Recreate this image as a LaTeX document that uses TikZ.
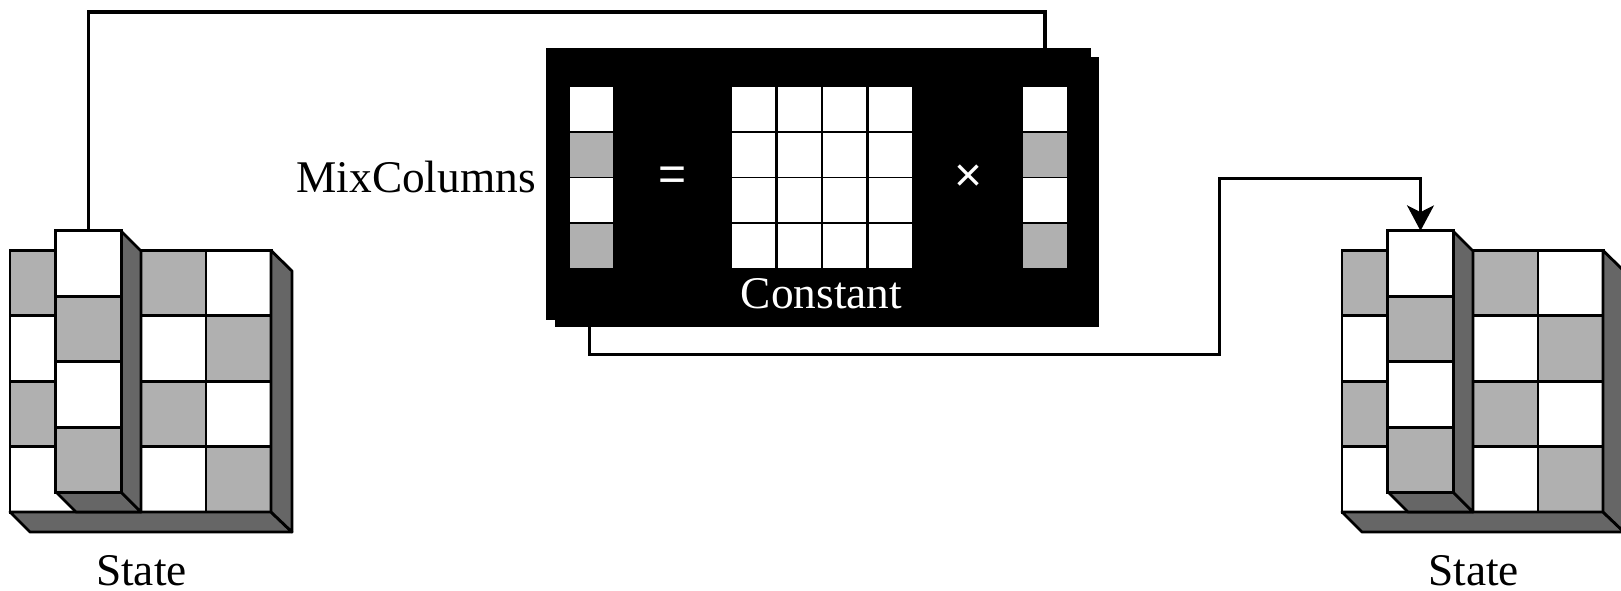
\documentclass[tikz,border=0pt]{standalone}
\usepackage{fontspec}
\setmainfont{Liberation Serif}
\newfontfamily\symfont{Liberation Sans}
\usetikzlibrary{arrows.meta}
\definecolor{cellgray}{HTML}{B0B0B0}
\definecolor{sidegray}{HTML}{666666}
\tikzset{
  px/.style={x=0.75pt,y=-0.75pt},
  statecell/.style={draw=black,line width=2.1pt,inner sep=0pt,outer sep=0pt,minimum width=49pt,minimum height=49pt},
  sideface/.style={draw=black,line width=2.1pt,fill=sidegray,line join=round},
  wc/.style={fill=white},
  gc/.style={fill=cellgray},
  flatcell/.style={inner sep=0pt,outer sep=0pt,minimum width=32.3pt,minimum height=33pt},
  blackbox/.style={fill=black,inner sep=0pt,outer sep=0pt,anchor=north west},
  conn/.style={draw=black,line width=2.9pt,line join=miter},
  lab/.style={font=\fontsize{34}{36}\selectfont,inner sep=0pt,anchor=base},
  symb/.style={font=\symfont\fontsize{36}{38}\selectfont,text=white,inner sep=0pt}
}
\newcommand{\statecube}[2]{%
  \begin{scope}[shift={(#2,0)}]
    \foreach \name/\cx/\cy/\st in {
      a/42.7/283.2/gc, b/42.7/348.5/wc, c/42.7/414/gc, d/42.7/479.5/wc,
      e/173.5/283.2/gc, f/173.5/348.5/wc, g/173.5/414/gc, h/173.5/479.5/wc,
      i/238.7/283.2/wc, j/238.7/348.5/gc, k/238.7/414/wc, l/238.7/479.5/gc}
      \node[statecell,\st] (#1-\name) at (\cx,\cy) {};
    \filldraw[sideface] (271,512) -- (292,532) -- (30,532) -- (10,512) -- cycle;
    \filldraw[sideface] (271,250.5) -- (292,271) -- (292,532) -- (271,512) -- cycle;
    \filldraw[sideface] (56,492) -- (121,492) -- (141,512) -- (76,512) -- cycle;
    \filldraw[sideface] (121,231) -- (141,251) -- (141,512) -- (121,492) -- cycle;
    \node[statecell,wc] (#1-top) at (88.5,263.5) {};
    \node[statecell,gc] (#1-m) at (88.5,329) {};
    \node[statecell,wc] (#1-n) at (88.5,394.5) {};
    \node[statecell,gc] (#1-o) at (88.5,460) {};
  \end{scope}}
\begin{document}
\begin{tikzpicture}[px]
\useasboundingbox (0,0) rectangle (1621,591);
\statecube{L}{0}
\statecube{R}{1332}
\node[lab] (lstate) at (141.5,585) {State};
\node[lab] (rstate) at (1473.5,585) {State};
\node[lab,anchor=base east] (mix) at (536,193) {MixColumns};
% black boxes
\node[blackbox,minimum width=408.75pt,minimum height=204.5pt] (boxback) at (546,47.7) {};
\node[blackbox,minimum width=408pt,minimum height=202.5pt] (boxfront) at (555,57) {};
% left and right columns
\foreach \name/\cx in {p/591.7,q/1045}{
  \node[flatcell,wc] (\name1) at (\cx,108.6) {};
  \node[flatcell,gc] (\name2) at (\cx,154.6) {};
  \node[flatcell,wc] (\name3) at (\cx,199.9) {};
  \node[flatcell,gc] (\name4) at (\cx,245.7) {};
}
% constant matrix
\foreach \cx [count=\i] in {753.5,799.5,844.7,890.5}
  \foreach \cy [count=\j] in {108.6,154.6,199.9,245.7}
    \node[flatcell,wc] (mat\i\j) at (\cx,\cy) {};
\node[symb] (eq) at (673,178.5) {=};
\node[symb] (times) at (969,178) {×};
\node[lab,text=white] (const) at (821.5,309) {Constant};
% connectors
\coordinate (c1) at (1045,12);
\coordinate (c2) at (589.5,354.5);
\coordinate (c3) at (1219.5,178.5);
\draw[conn] (L-top.north) |- (c1) -- (c1 |- boxback.north);
\draw[conn,-{Stealth[length=19pt,width=20pt,inset=5pt]}] (c2 |- boxfront.south) -- (c2) -| (c3) -| (R-top.north);
\end{tikzpicture}
\end{document}
